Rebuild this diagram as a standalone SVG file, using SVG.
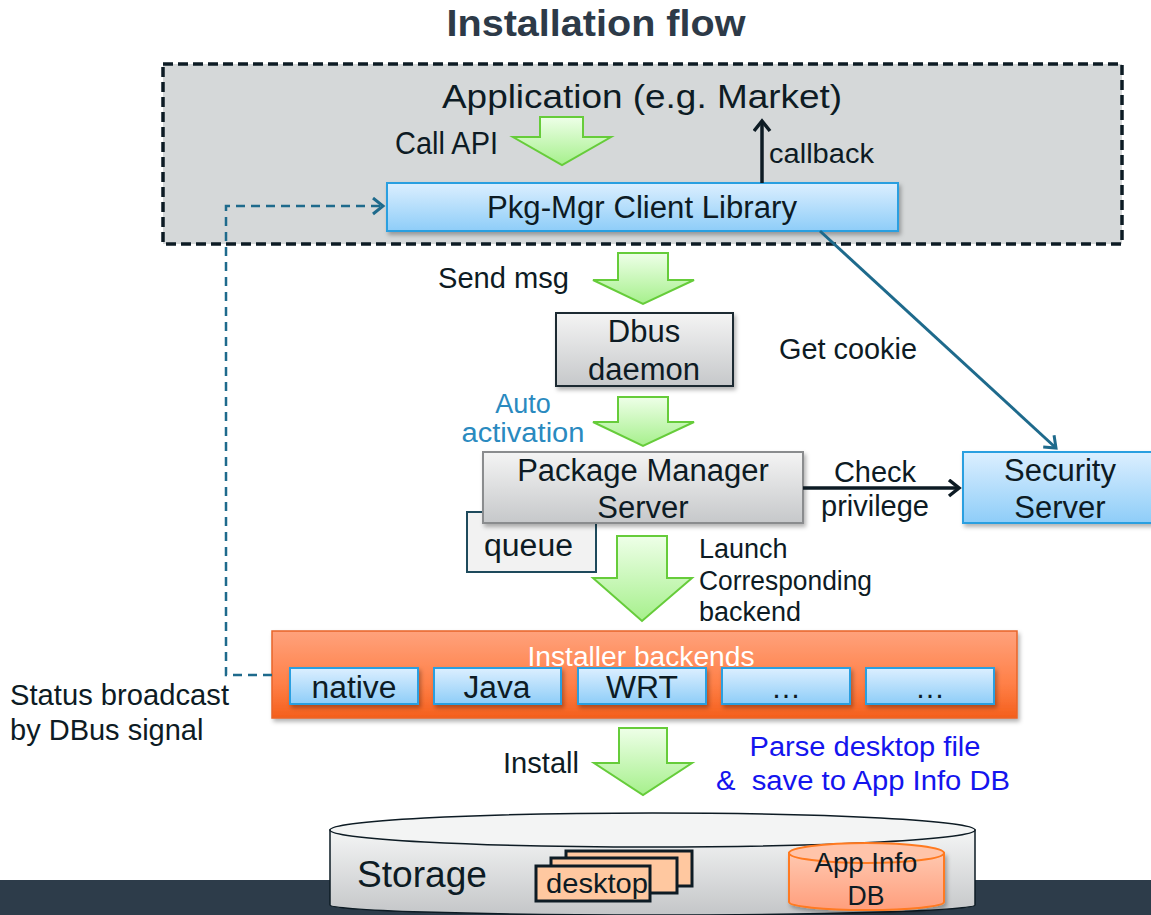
<svg xmlns="http://www.w3.org/2000/svg" width="1151" height="915" viewBox="0 0 1151 915">
<defs>
<style>
text{font-family:"Liberation Sans",Arial,sans-serif;fill:#0d1b24}
.n{font-family:"Liberation Sans Narrow","Liberation Sans",Arial,sans-serif}
.mid{text-anchor:middle}
.grn{fill:url(#gGreen);stroke:#66cc3a;stroke-width:2}
.blue{fill:url(#gBlue);stroke:#2a9fe0;stroke-width:2}
.gray{fill:url(#gGray)}
</style>
<linearGradient id="gGreen" x1="0" y1="0" x2="0" y2="1"><stop offset="0" stop-color="#eeffe8"/><stop offset="1" stop-color="#a6f08c"/></linearGradient>
<linearGradient id="gBlue" x1="0" y1="0" x2="0" y2="1"><stop offset="0" stop-color="#dcefff"/><stop offset="1" stop-color="#8ecdf8"/></linearGradient>
<linearGradient id="gGray" x1="0" y1="0" x2="0" y2="1"><stop offset="0" stop-color="#f4f4f4"/><stop offset="1" stop-color="#c6c8ca"/></linearGradient>
<linearGradient id="gOrange" x1="0" y1="0" x2="0" y2="1"><stop offset="0" stop-color="#ffa27c"/><stop offset="0.6" stop-color="#ff8048"/><stop offset="1" stop-color="#f45f1c"/></linearGradient>
<linearGradient id="gStore" x1="0" y1="0" x2="0" y2="1"><stop offset="0" stop-color="#f4f5f5"/><stop offset="1" stop-color="#c4c6c8"/></linearGradient>
<linearGradient id="gDB" x1="0" y1="0" x2="0" y2="1"><stop offset="0" stop-color="#ffc8b0"/><stop offset="1" stop-color="#ff9e7c"/></linearGradient>
<filter id="sh" x="-10%" y="-10%" width="130%" height="140%"><feDropShadow dx="2" dy="3" stdDeviation="2" flood-color="#000" flood-opacity="0.3"/></filter>
<marker id="mDark" markerUnits="userSpaceOnUse" markerWidth="24" markerHeight="24" refX="12" refY="9" orient="auto"><path d="M2,1 L12,9 L2,17" fill="none" stroke="#0d1b24" stroke-width="3.5"/></marker>
<marker id="mBlue" markerUnits="userSpaceOnUse" markerWidth="24" markerHeight="24" refX="12" refY="9" orient="auto"><path d="M2,1 L12,9 L2,17" fill="none" stroke="#1e6a8c" stroke-width="3"/></marker>
</defs>
<rect width="1151" height="915" fill="#fff"/>
<rect x="0" y="880" width="1151" height="35" fill="#2d3c4a"/>
<text x="596" y="36" class="mid" font-size="37" font-weight="bold" style="fill:#2d3a48" textLength="299" lengthAdjust="spacingAndGlyphs">Installation flow</text>

<g id="application">
<rect x="163" y="64" width="959" height="180" fill="#d5d8d9" stroke="#0d1b24" stroke-width="3.5" stroke-dasharray="10,5"/>
<text x="642" y="108" class="n mid" font-size="34" textLength="400" lengthAdjust="spacingAndGlyphs">Application (e.g. Market)</text>
<text x="395" y="154" class="n" font-size="31" textLength="103" lengthAdjust="spacingAndGlyphs">Call API</text>
<text x="769" y="163" class="n" font-size="27" textLength="105" lengthAdjust="spacingAndGlyphs">callback</text>
</g>

<g id="client-lib">
<rect x="387" y="183" width="511" height="48" class="blue" filter="url(#sh)"/>
<text x="642" y="218" class="n mid" font-size="31" textLength="310" lengthAdjust="spacingAndGlyphs">Pkg-Mgr Client Library</text>
</g>

<g id="dbus">
<rect x="556" y="313" width="177" height="73" class="gray" stroke="#1a2a33" stroke-width="2" filter="url(#sh)"/>
<text x="644" y="342" class="mid" font-size="31">Dbus</text>
<text x="644" y="380" class="mid" font-size="31">daemon</text>
</g>

<g id="queue">
<rect x="467" y="512" width="129" height="60" fill="#f2f2f2" stroke="#1e4a5c" stroke-width="2"/>
<text x="484" y="556" font-size="31" textLength="89" lengthAdjust="spacingAndGlyphs">queue</text>
</g>

<g id="pkg-server">
<rect x="483" y="452" width="320" height="71" class="gray" stroke="#8a8c8e" stroke-width="2" filter="url(#sh)"/>
<text x="643" y="481" class="mid" font-size="31">Package Manager</text>
<text x="643" y="518" class="mid" font-size="31">Server</text>
</g>

<g id="security">
<rect x="963" y="452" width="190" height="71" class="blue" filter="url(#sh)"/>
<text x="1060" y="481" class="mid" font-size="31">Security</text>
<text x="1060" y="518" class="mid" font-size="31">Server</text>
</g>

<g id="backends">
<rect x="272" y="631" width="745" height="87" fill="url(#gOrange)" stroke="#e8642a" stroke-width="1.5" filter="url(#sh)"/>
<text x="641" y="666" class="n mid" font-size="27" style="fill:#fff" textLength="227" lengthAdjust="spacingAndGlyphs">Installer backends</text>
<rect x="290" y="668" width="128" height="36" class="blue" filter="url(#sh)"/>
<text x="354" y="698" class="n mid" font-size="31" textLength="85" lengthAdjust="spacingAndGlyphs">native</text>
<rect x="434" y="668" width="127" height="36" class="blue" filter="url(#sh)"/>
<text x="497" y="698" class="n mid" font-size="31" textLength="67" lengthAdjust="spacingAndGlyphs">Java</text>
<rect x="578" y="668" width="128" height="36" class="blue" filter="url(#sh)"/>
<text x="642" y="698" class="n mid" font-size="31" textLength="72" lengthAdjust="spacingAndGlyphs">WRT</text>
<rect x="722" y="668" width="128" height="36" class="blue" filter="url(#sh)"/>
<text x="786" y="698" class="n mid" font-size="30">…</text>
<rect x="866" y="668" width="128" height="36" class="blue" filter="url(#sh)"/>
<text x="930" y="698" class="n mid" font-size="30">…</text>
</g>

<g id="storage">
<path d="M330,830 V905 A322.5,10 0 0 0 975,905 V830 Z" fill="url(#gStore)" stroke="#0d1b24" stroke-width="1.5"/>
<ellipse cx="652.5" cy="830" rx="322.5" ry="17" fill="#f3f4f4" stroke="#0d1b24" stroke-width="1.5"/>
<text x="357" y="887" class="n" font-size="37" textLength="130" lengthAdjust="spacingAndGlyphs">Storage</text>
</g>

<g id="desktop">
<rect x="566" y="851" width="126" height="35" fill="#ffc8a0" stroke="#0d1b24" stroke-width="3"/>
<rect x="551" y="858" width="126" height="35" fill="#ffc8a0" stroke="#0d1b24" stroke-width="3"/>
<rect x="536" y="866" width="114" height="35" fill="#ffc8a0" stroke="#0d1b24" stroke-width="3"/>
<text x="597" y="893" class="n mid" font-size="28" textLength="102" lengthAdjust="spacingAndGlyphs">desktop</text>
</g>

<g id="appinfo-db">
<path d="M789,853 V902 A77.5,8 0 0 0 944,902 V853 Z" fill="url(#gDB)" stroke="#ff7a20" stroke-width="2" filter="url(#sh)"/>
<ellipse cx="866.5" cy="853" rx="77.5" ry="10" fill="#ffc4aa" stroke="#ff7a20" stroke-width="2"/>
<text x="866" y="872" class="n mid" font-size="28" textLength="103" lengthAdjust="spacingAndGlyphs">App Info</text>
<text x="866" y="905" class="n mid" font-size="28" textLength="37" lengthAdjust="spacingAndGlyphs">DB</text>
</g>

<g id="connectors">
<path d="M540,117 H583 V137 H611 L562,165 L513,137 H540 Z" class="grn"/>
<path d="M618,253 H668 V280 H694 L643,304 L593,280 H618 Z" class="grn"/>
<path d="M618,397 H668 V422 H694 L643,446 L593,422 H618 Z" class="grn"/>
<path d="M617,536 H667 V578 H692 L642,621 L593,578 H617 Z" class="grn"/>
<path d="M619,728 H667 V763 H692 L643,795 L594,763 H619 Z" class="grn"/>
<line x1="762" y1="183" x2="762" y2="121" stroke="#0d1b24" stroke-width="3.5" marker-end="url(#mDark)"/>
<line x1="803" y1="488" x2="959" y2="488" stroke="#0d1b24" stroke-width="3.5" marker-end="url(#mDark)"/>
<line x1="820" y1="231" x2="1056" y2="448" stroke="#1e6a8c" stroke-width="3" marker-end="url(#mBlue)"/>
<path d="M272,675 H226 V206 H383" fill="none" stroke="#1e6a8c" stroke-width="2.5" stroke-dasharray="9,6" marker-end="url(#mBlue)"/>
</g>

<g id="labels">
<text x="438" y="288" font-size="29" textLength="131" lengthAdjust="spacingAndGlyphs">Send msg</text>
<text x="779" y="359" font-size="29" textLength="138" lengthAdjust="spacingAndGlyphs">Get cookie</text>
<text x="523" y="413" class="mid" font-size="27" style="fill:#2a8abf">Auto</text>
<text x="523" y="442" class="mid" font-size="27" style="fill:#2a8abf" textLength="123" lengthAdjust="spacingAndGlyphs">activation</text>
<text x="875" y="482" class="mid" font-size="29">Check</text>
<text x="875" y="516" class="mid" font-size="29">privilege</text>
<text x="699" y="558" font-size="27">Launch</text>
<text x="699" y="590" font-size="27" textLength="173" lengthAdjust="spacingAndGlyphs">Corresponding</text>
<text x="699" y="621" font-size="27">backend</text>
<text x="10" y="705" font-size="29" textLength="219" lengthAdjust="spacingAndGlyphs">Status broadcast</text>
<text x="10" y="740" font-size="29">by DBus signal</text>
<text x="503" y="773" font-size="29" textLength="76" lengthAdjust="spacingAndGlyphs">Install</text>
<text x="865" y="756" class="mid" font-size="27" style="fill:#1414ee" textLength="231" lengthAdjust="spacingAndGlyphs">Parse desktop file</text>
<text x="716" y="790" font-size="27" style="fill:#1414ee" textLength="294" lengthAdjust="spacingAndGlyphs" xml:space="preserve">&amp;  save to App Info DB</text>
</g>
</svg>
